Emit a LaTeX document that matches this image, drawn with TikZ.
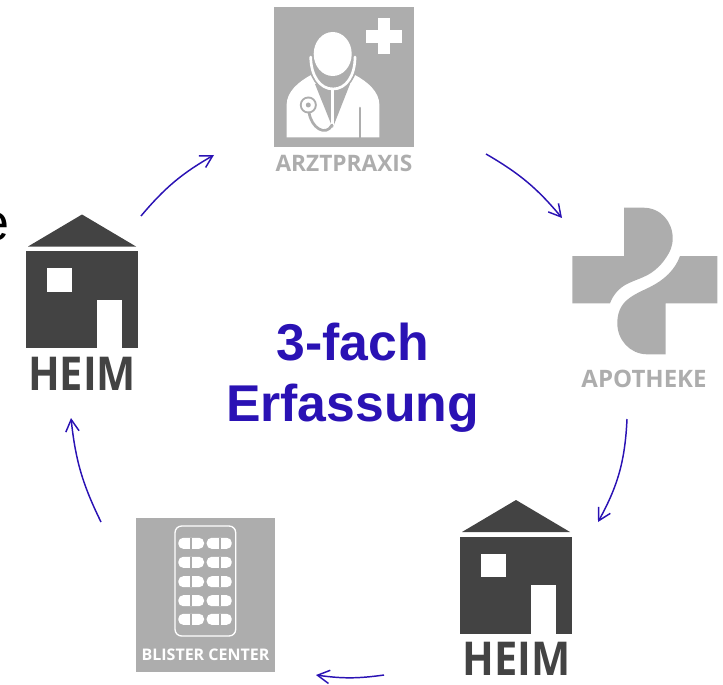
\documentclass[tikz,border=0pt]{standalone}
\usepackage{fontspec}
\setmainfont{Liberation Sans}
\newfontfamily\labelfont{Open Sans}
\usetikzlibrary{arrows.meta}
\definecolor{hellgrau}{HTML}{ADADAD}
\definecolor{hausgrau}{HTML}{434343}
\definecolor{pfeilblau}{HTML}{2A12B4}
\tikzset{
  pfeil/.style={draw=pfeilblau,line width=1.1pt,-{Straight Barb[length=9pt,width=10pt]}},
  weiss/.style={draw=white,line width=2pt,line cap=round},
  grauer/.style={draw=hellgrau,line width=2pt,line cap=round},
  etikett/.style={font=\labelfont\bfseries\fontsize{17}{17}\selectfont,text=hellgrau,inner sep=0pt},
  heim/.style={font=\labelfont\bfseries\fontsize{35}{35}\selectfont,text=hausgrau,inner sep=0pt},
  titel/.style={font=\bfseries\fontsize{38.8}{46}\selectfont,text=pfeilblau,align=center,inner sep=0pt},
  pille/.style={fill=white,rounded corners=3.7pt}
}
% ein Haus mit Dach, Fenster und Tuer, links oben bei (#1,#2)
\newcommand{\haus}[2]{
  \fill[hausgrau] (#1+2,#2+32) -- (#1+56,#2) -- (#1+110,#2+32) -- cycle;
  \fill[hausgrau] (#1,#2+36.5) rectangle (#1+112,#2+133.5);
  \fill[white] (#1+20.7,#2+53.5) rectangle (#1+46,#2+77);
  \fill[white] (#1+71.3,#2+85) rectangle (#1+96,#2+135.5);
}
\begin{document}
\begin{tikzpicture}[x=0.75pt,y=-0.75pt,line join=round]
  \useasboundingbox (0,0) rectangle (723,684);
  \clip (0,0) rectangle (723,684);

  % Rest vom Text links
  \node[anchor=base east,font=\fontsize{39}{39}\selectfont,inner sep=0pt] (rest) at (10,240) {e};

  % Arztpraxis
  \fill[hellgrau] (274,7) rectangle (414,147);
  \fill[white] (378,18) rectangle (390,54);
  \fill[white] (366,30) rectangle (402,43);
  \fill[white] (286.7,137.5) -- (286.7,104) .. controls (287,92) and (298,82) .. (311,75)
     -- (355,75) .. controls (368,82) and (379,92) .. (379.3,104) -- (379.3,137.5) -- cycle;
  \fill[hellgrau] (315,84) -- (332.7,128) -- (350,84) -- cycle;
  \fill[hellgrau] (310.7,56) .. controls (311,76) and (320,89) .. (333,89)
     .. controls (346,89) and (355,76) .. (355,56) -- cycle;
  \draw[grauer,line width=4.5pt] (310.7,58) .. controls (311,76) and (320,89) .. (333,89)
     .. controls (346,89) and (355,76) .. (355,58);
  \draw[weiss] (310.7,57) .. controls (311,76) and (320,89) .. (333,89)
     .. controls (346,89) and (355,76) .. (355,57);
  \fill[white] (332.7,54) ellipse (19 and 22);
  \draw[weiss] (332.7,89) -- (332.7,125);
  \draw[grauer] (360,108) -- (360,137.5);
  \draw[grauer] (309,112) .. controls (311,128) and (326,137) .. (332,125);
  \fill[hellgrau] (308.3,105) circle (8.5);
  \fill[white] (308.3,105) circle (6.5);
  \fill[hellgrau] (308.3,105) circle (2.5);
  \node[etikett] (arztpraxis) at (344,163) {ARZTPRAXIS};

  % Apotheke
  \fill[hellgrau] (624,207.7) -- (643.3,207.7) .. controls (661,207.7) and (672.7,222) .. (672.7,238.3)
     .. controls (672.7,246) and (670,252) .. (666.7,256.7)
     .. controls (662,264) and (657,269) .. (651,273)
     .. controls (643,278) and (635,280) .. (627,284)
     .. controls (619,288) and (613,295) .. (610,303.3)
     -- (572.3,303.3) -- (572.3,256) -- (624,256) -- cycle;
  \fill[hellgrau] (680,256) -- (717.3,256) -- (717.3,303.3) -- (665.7,303.3) -- (665.7,354.3) -- (646.7,354.3)
     .. controls (630,354) and (617.3,340) .. (617.3,323.3)
     .. controls (617.3,314) and (620,306) .. (627,300)
     .. controls (634,294) and (642,291) .. (650,287)
     .. controls (664,280) and (675,270) .. (680,256) -- cycle;
  \node[etikett,font=\labelfont\bfseries\fontsize{18}{18}\selectfont] (apotheke) at (644,379) {APOTHEKE};

  % Heime
  \haus{26}{214.5}
  \node[heim] (heimlinks) at (82,374) {\scalebox{0.89}[1]{HEIM}};
  \haus{460}{500}
  \node[heim] (heimrechts) at (516.5,659) {\scalebox{0.89}[1]{HEIM}};

  % Blister Center
  \fill[hellgrau] (136,518) rectangle (275,672);
  \draw[white,line width=1pt,rounded corners=5pt] (175,526) rectangle (235.7,636);
  \foreach \y in {543.3,562.3,581.7,600.7,619.3} {
    \fill[pille] (178.3,\y-5.5) rectangle (204,\y+5.5);
    \fill[pille] (206.7,\y-5.5) rectangle (231.7,\y+5.5);
    \draw[hellgrau,line width=0.8pt] (191,\y-5.5) -- (191,\y+5.5);
    \draw[hellgrau,line width=0.8pt] (220,\y-5.5) -- (220,\y+5.5);
  }
  \node[etikett,text=white,font=\labelfont\bfseries\fontsize{12}{12}\selectfont] (blister) at (205.5,655) {BLISTER CENTER};

  % Mitte
  \node[titel] (mitte) at (352.5,377.5) {3-fach\\Erfassung};

  % Pfeile
  \coordinate (a1) at (141,216); \coordinate (a2) at (214,155);
  \coordinate (b1) at (486,154); \coordinate (b2) at (562,218);
  \coordinate (c1) at (627,419); \coordinate (c2) at (598,522);
  \coordinate (d1) at (384,675); \coordinate (d2) at (316,675);
  \coordinate (e1) at (101,522); \coordinate (e2) at (71,418);
  \draw[pfeil] (a1) to[bend left=10] (a2);
  \draw[pfeil] (b1) to[bend left=10] (b2);
  \draw[pfeil] (c1) to[bend left=13] (c2);
  \draw[pfeil] (d1) to[bend left=8] (d2);
  \draw[pfeil] (e1) to[bend left=10] (e2);
\end{tikzpicture}
\end{document}
